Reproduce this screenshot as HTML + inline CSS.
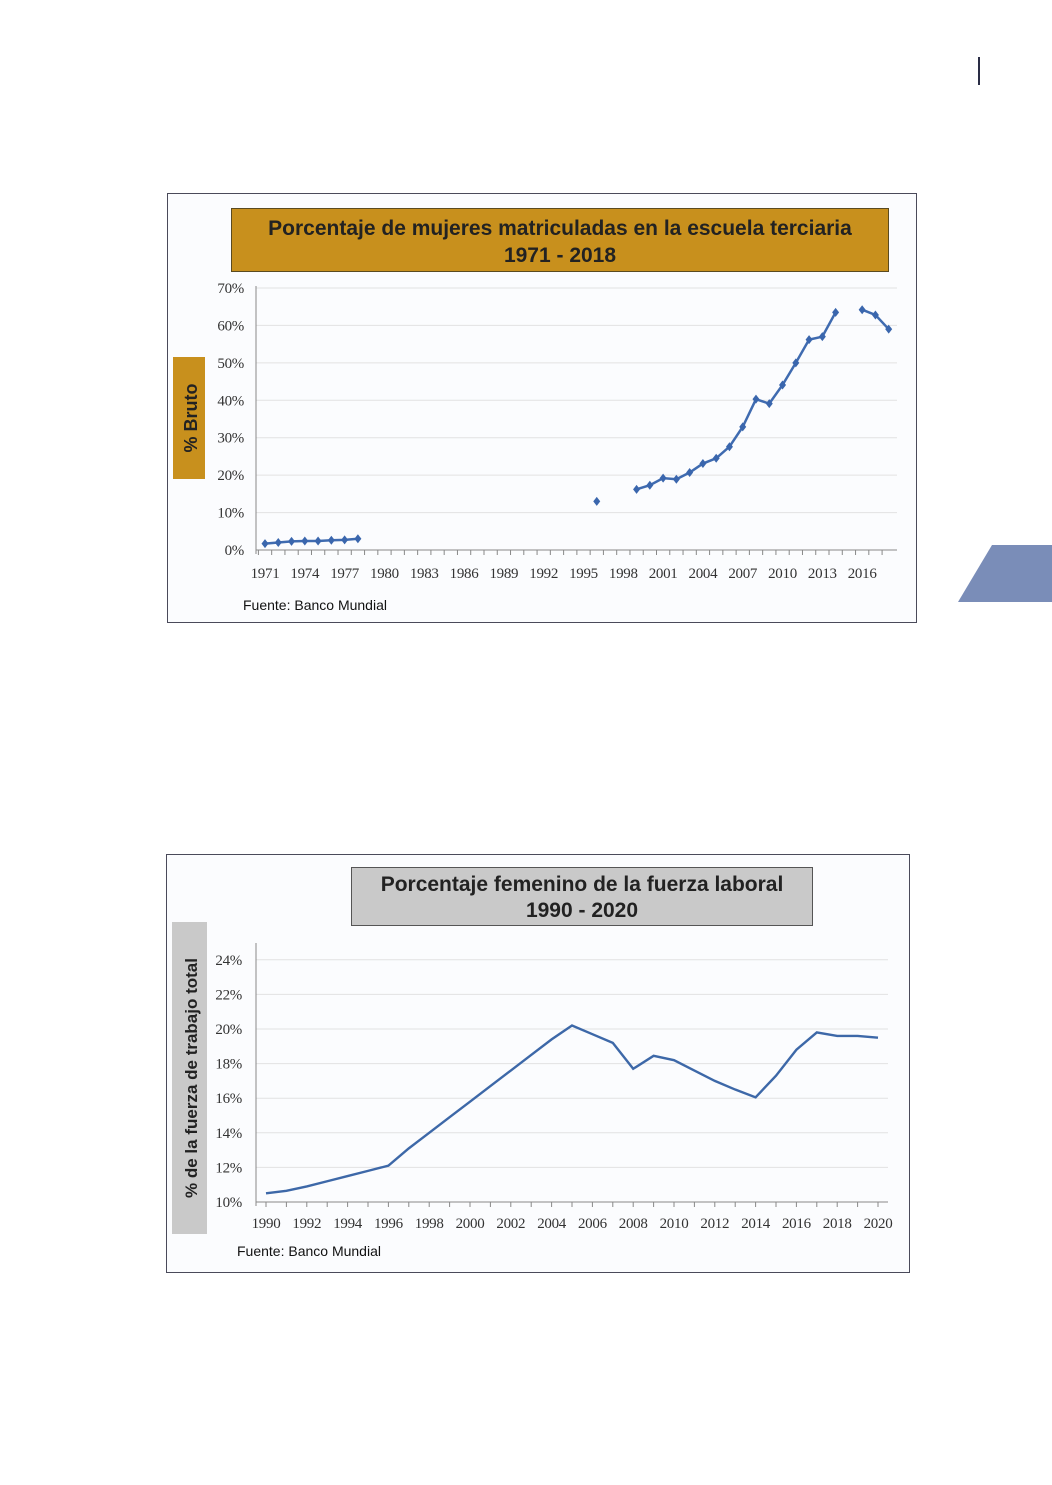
<!DOCTYPE html>
<html><head><meta charset="utf-8"><style>
html,body{margin:0;padding:0;background:#fff;}
svg{display:block;}
.tk{font-family:"Liberation Serif",serif;font-size:15px;fill:#333;letter-spacing:-0.3px;}
.tt{font-family:"Liberation Sans",sans-serif;font-weight:bold;font-size:21px;fill:#222;}
</style></head><body>
<svg id="page" width="1052" height="1485" viewBox="0 0 1052 1485">
<rect width="1052" height="1485" fill="#fff"/>
<line x1="979" y1="57" x2="979" y2="85" stroke="#2a2d45" stroke-width="2"/>
<polygon points="992,545 1052,545 1052,602 958,602" fill="#7a8db8"/>

<g>
<rect x="167.5" y="193.5" width="749" height="429" fill="#fbfcfe" stroke="#4a4a5a"/>
<rect x="231.5" y="208.5" width="657" height="63" fill="#c8901d" stroke="#5a4a20"/>
<text class="tt" x="560" y="235" text-anchor="middle">Porcentaje de mujeres matriculadas en la escuela terciaria</text>
<text class="tt" x="560" y="262" text-anchor="middle">1971 - 2018</text>
<rect x="173" y="357" width="32" height="122" fill="#c8901d"/>
<text class="tt" transform="translate(197,418) rotate(-90)" text-anchor="middle" style="font-size:18px">% Bruto</text>
<text x="243" y="610" style="font-family:'Liberation Sans',sans-serif;font-size:14px;fill:#111">Fuente: Banco Mundial</text>
<g id="c1"></g>
</g>

<g>
<rect x="166.5" y="854.5" width="743" height="418" fill="#fbfcfe" stroke="#4a4a5a"/>
<rect x="351.5" y="867.5" width="461" height="58" fill="#c9c9c9" stroke="#555"/>
<text class="tt" x="582" y="891" text-anchor="middle">Porcentaje femenino de la fuerza laboral</text>
<text class="tt" x="582" y="917" text-anchor="middle">1990 - 2020</text>
<rect x="172" y="922" width="35" height="312" fill="#c9c9c9"/>
<text class="tt" transform="translate(197,1078) rotate(-90)" text-anchor="middle" style="font-size:17px">% de la fuerza de trabajo total</text>
<text x="237" y="1256" style="font-family:'Liberation Sans',sans-serif;font-size:14px;fill:#111">Fuente: Banco Mundial</text>
<g id="c2"></g>
</g>
</svg>
<script>
const years1 = [1971,1972,1973,1974,1975,1976,1977,1978,1979,1980,1981,1982,1983,1984,1985,1986,1987,1988,1989,1990,1991,1992,1993,1994,1995,1996,1997,1998,1999,2000,2001,2002,2003,2004,2005,2006,2007,2008,2009,2010,2011,2012,2013,2014,2015,2016,2017,2018];
const values1 = [1.7,2.0,2.3,2.4,2.4,2.6,2.7,3.0,null,null,null,null,null,null,null,null,null,null,null,null,null,null,null,null,null,13.0,null,null,16.2,17.3,19.2,18.9,20.7,23.1,24.5,27.6,32.9,40.3,39.1,44.1,50.0,56.2,57.0,63.5,null,64.2,62.8,59.0];
const yTicks1 = [0,10,20,30,40,50,60,70];
const years2 = [1990,1991,1992,1993,1994,1995,1996,1997,1998,1999,2000,2001,2002,2003,2004,2005,2006,2007,2008,2009,2010,2011,2012,2013,2014,2015,2016,2017,2018,2019,2020];
const values2 = [10.5,10.65,10.9,11.2,11.5,11.8,12.1,13.1,14.0,14.9,15.8,16.7,17.6,18.5,19.4,20.2,19.7,19.2,17.7,18.45,18.2,17.6,17.0,16.5,16.05,17.3,18.8,19.8,19.6,19.6,19.5];
const yTicks2 = [10,12,14,16,18,20,22,24];
const NS='http://www.w3.org/2000/svg';
function mk(p,t,a){const e=document.createElementNS(NS,t);for(const k in a)e.setAttribute(k,a[k]);p.appendChild(e);return e;}

(function(){
const g=document.getElementById('c1');
const x=y=>265+(y-1971)*13.27, yv=v=>550-v*(262/70);
for(const t of yTicks1){
 const gl=mk(g,'line',{x1:256,x2:897,y1:yv(t),y2:yv(t),stroke:t?'#e2e2e2':'#888'});
 
 
 const tx=mk(g,'text',{x:244,y:yv(t)+5,'text-anchor':'end',class:'tk'});tx.textContent=t+'%';
 
 
}
mk(g,'line',{x1:256,x2:256,y1:286,y2:554,stroke:'#888'});
for(let i=0;i<years1.length;i++){
 const yr=years1[i];
 mk(g,'line',{x1:x(yr)-6.6,x2:x(yr)-6.6,y1:550,y2:555,stroke:'#888'});
 if((yr-1971)%3===0){const tx=mk(g,'text',{x:x(yr),y:578,'text-anchor':'middle',class:'tk'});tx.textContent=yr;
 
 }
}
let seg=[];const segs=[];
values1.forEach((v,i)=>{if(v==null){if(seg.length)segs.push(seg);seg=[];}else seg.push([x(years1[i]),yv(v)]);});
if(seg.length)segs.push(seg);
segs.forEach(s=>{if(s.length>1){const p=mk(g,'polyline',{points:s.map(q=>q.join(',')).join(' '),fill:'none',stroke:'#3f6bb0','stroke-width':2.5});
 
 }});
values1.forEach((v,i)=>{if(v==null)return;const cx=x(years1[i]),cy=yv(v);
 const d=mk(g,'polygon',{points:`${cx},${cy-4.5} ${cx+3.5},${cy} ${cx},${cy+4.5} ${cx-3.5},${cy}`,fill:'#3a66ad'});
 
 });
})();

(function(){
const g=document.getElementById('c2');
const x=y=>266+(y-1990)*20.4, yv=v=>1202-(v-10)*17.3;
for(const t of yTicks2){
 const gl=mk(g,'line',{x1:256,x2:888,y1:yv(t),y2:yv(t),stroke:t>10?'#e2e2e2':'#888'});
 
 
 const tx=mk(g,'text',{x:242,y:yv(t)+5,'text-anchor':'end',class:'tk'});tx.textContent=t+'%';
 
 
}
mk(g,'line',{x1:256,x2:256,y1:943,y2:1206,stroke:'#888'});
for(const yr of years2){
 mk(g,'line',{x1:x(yr),x2:x(yr),y1:1202,y2:1207,stroke:'#888'});
 if(yr%2===0){const tx=mk(g,'text',{x:x(yr),y:1228,'text-anchor':'middle',class:'tk'});tx.textContent=yr;
 
 }
}
const p=mk(g,'polyline',{points:values2.map((v,i)=>x(years2[i])+','+yv(v)).join(' '),fill:'none',stroke:'#3d68a8','stroke-width':2.4});


})();
</script>
</body></html>
